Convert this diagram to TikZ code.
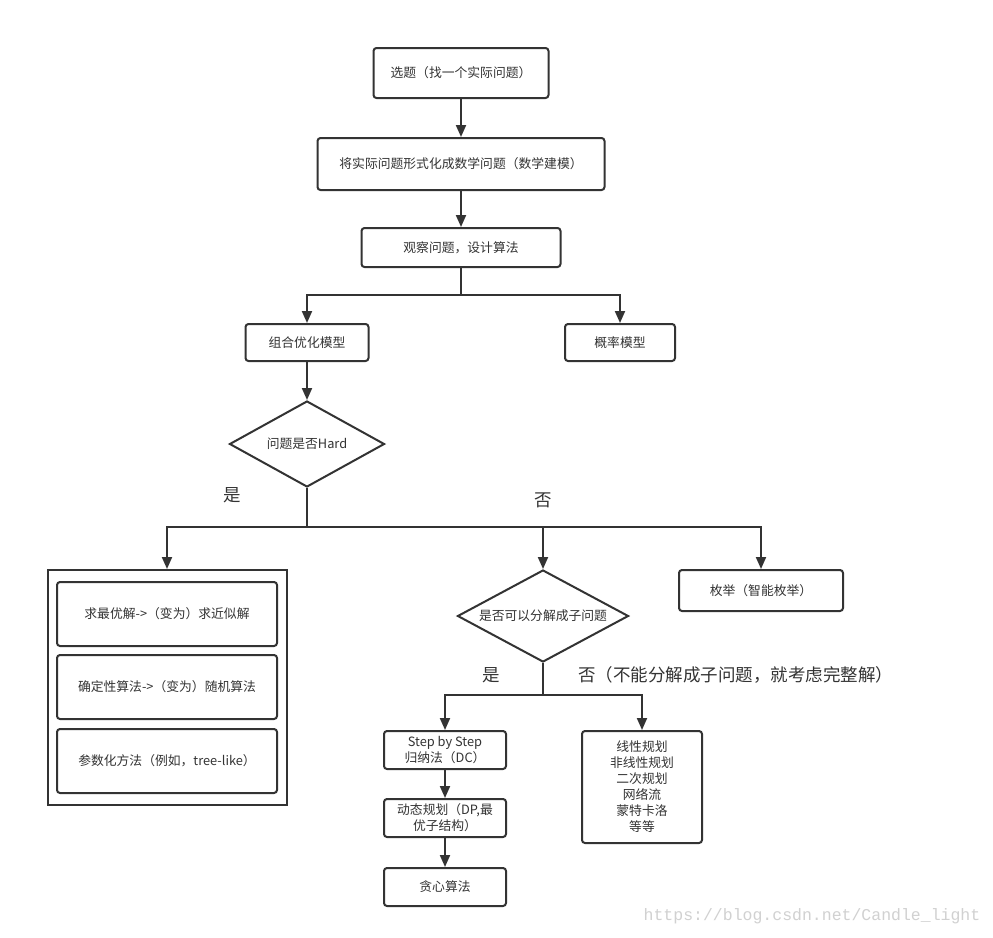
\documentclass[tikz,border=0pt]{standalone}
\usepackage{fontspec}
\setmainfont{Noto Sans CJK SC}
\newfontfamily\wmfont{Liberation Mono}
\usetikzlibrary{arrows.meta,shapes.geometric}
\definecolor{ink}{HTML}{333333}
\begin{document}
\begin{tikzpicture}[x=1pt,y=-1pt,color=ink,line width=2pt,
  box/.style={draw,rounded corners=3pt,inner sep=0pt,align=center,font=\fontsize{12.8}{16}\selectfont},
  ask/.style={draw,diamond,inner sep=0pt,font=\fontsize{12.8}{16}\selectfont},
  frame/.style={draw,inner sep=0pt},
  tag/.style={font=\fontsize{17.5}{20}\selectfont},
  arr/.style={-{Triangle[length=12pt,width=10pt]}}]
\useasboundingbox[fill=white] (0,0) rectangle (993,937);
% top part
\node[box,minimum width=175pt,minimum height=50pt] (pick) at (461,73) {选题（找一个实际问题）};
\node[box,minimum width=287pt,minimum height=52pt] (model) at (461,164) {将实际问题形式化成数学问题（数学建模）};
\node[box,minimum width=199pt,minimum height=39pt] (observe) at (461,247.5) {观察问题，设计算法};
\node[box,minimum width=123pt,minimum height=37pt] (combo) at (307,342.5) {组合优化模型};
\node[box,minimum width=110pt,minimum height=37pt] (prob) at (620,342.5) {概率模型};
\node[ask,aspect=1.8,minimum width=155pt,minimum height=86pt] (hard) at (307,444) {问题是否Hard};
% second level
\node[frame,minimum width=239pt,minimum height=235pt] (hardbox) at (167,687.5) {};
\node[box,minimum width=220pt,minimum height=64pt] (approx) at (167,614) {求最优解->（变为）求近似解};
\node[box,minimum width=220pt,minimum height=64pt] (random) at (167,687) {确定性算法->（变为）随机算法};
\node[box,minimum width=220pt,minimum height=64pt] (param) at (167,761) {参数化方法（例如，tree-like）};
\node[ask,aspect=1.86,minimum width=171pt,minimum height=92pt] (split) at (543,616) {是否可以分解成子问题};
\node[box,minimum width=164pt,minimum height=41pt] (enum) at (761,590.5) {枚举（智能枚举）};
% third level
\node[box,minimum width=122pt,minimum height=38pt] (step) at (445,750) {Step by Step\\归纳法（DC）};
\node[box,minimum width=122pt,minimum height=38pt] (dp) at (445,818) {动态规划（DP,最\\优子结构）};
\node[box,minimum width=122pt,minimum height=38pt] (greedy) at (445,887) {贪心算法};
\node[box,minimum width=120pt,minimum height=112pt] (lin) at (642,787) {线性规划\\非线性规划\\二次规划\\网络流\\蒙特卡洛\\等等};
% labels
\node[tag] (yes1) at (232,495) {是};
\node[tag] (no1) at (543,500) {否};
\node[tag] (yes2) at (491,675) {是};
\node[tag,anchor=west] (no2) at (574,675) {否（不能分解成子问题，就考虑完整解）};
\node[font=\wmfont\fontsize{16.5}{18}\selectfont,text=black!18] (mark) at (812,916) {https://blog.csdn.net/Candle\_light};
% connectors
\coordinate (s1) at (461,295);
\coordinate (s2) at (307,527);
\coordinate (s3) at (543,695);
\draw[arr] (pick) -- (model);
\draw[arr] (model) -- (observe);
\draw (observe) -- (s1);
\draw[arr] (s1) -| (combo);
\draw[arr] (s1) -| (prob);
\draw[arr] (combo) -- (hard);
\draw (hard) -- (s2);
\draw[arr] (s2) -| (hardbox);
\draw[arr] (s2) -| (split);
\draw[arr] (s2) -| (enum);
\draw (split) -- (s3);
\draw[arr] (s3) -| (step);
\draw[arr] (s3) -| (lin);
\draw[arr] (step) -- (dp);
\draw[arr] (dp) -- (greedy);
\end{tikzpicture}
\end{document}
